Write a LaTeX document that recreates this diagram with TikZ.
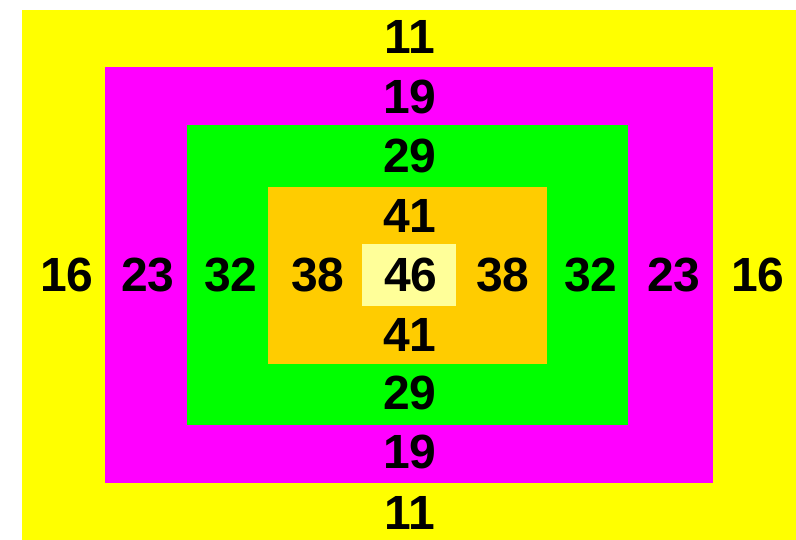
\documentclass[tikz,border=0pt]{standalone}
\usepackage{fontspec}
\setmainfont{Liberation Sans}
\definecolor{cyel}{HTML}{FFFF00}
\definecolor{cmag}{HTML}{FF00FF}
\definecolor{cgrn}{HTML}{00FF00}
\definecolor{corg}{HTML}{FFCC00}
\definecolor{clt}{HTML}{FFFF99}
\tikzset{num/.style={inner sep=0pt, font=\fontsize{48}{48}\selectfont\bfseries}}
\begin{document}
\begin{tikzpicture}[x=1pt,y=-1pt]
\useasboundingbox (0,0) rectangle (796,540);
\fill[white] (0,0) rectangle (796,540);
\fill[cyel] (22,10) rectangle (796,540);
\fill[cmag] (105,67) rectangle (713,483);
\fill[cgrn] (187,125) rectangle (628,425);
\fill[corg] (268,187) rectangle (547,364);
\fill[clt] (362,244) rectangle (456,306);
\node[num] (t11) at (410,36.5) {11};
\node[num] (t19) at (410,97) {19};
\node[num] (t29) at (410,156) {29};
\node[num] (t41) at (410,216) {41};
\node[num] (c46) at (411,275) {46};
\node[num] (b41) at (410,335) {41};
\node[num] (b29) at (410,393) {29};
\node[num] (b19) at (410,452) {19};
\node[num] (b11) at (410,513) {11};
\node[num] (l16) at (67,275) {16};
\node[num] (l23) at (148,275) {23};
\node[num] (l32) at (231,275) {32};
\node[num] (l38) at (318,275) {38};
\node[num] (r38) at (503,275) {38};
\node[num] (r32) at (591,275) {32};
\node[num] (r23) at (674,275) {23};
\node[num] (r16) at (758,275) {16};
\end{tikzpicture}
\end{document}
